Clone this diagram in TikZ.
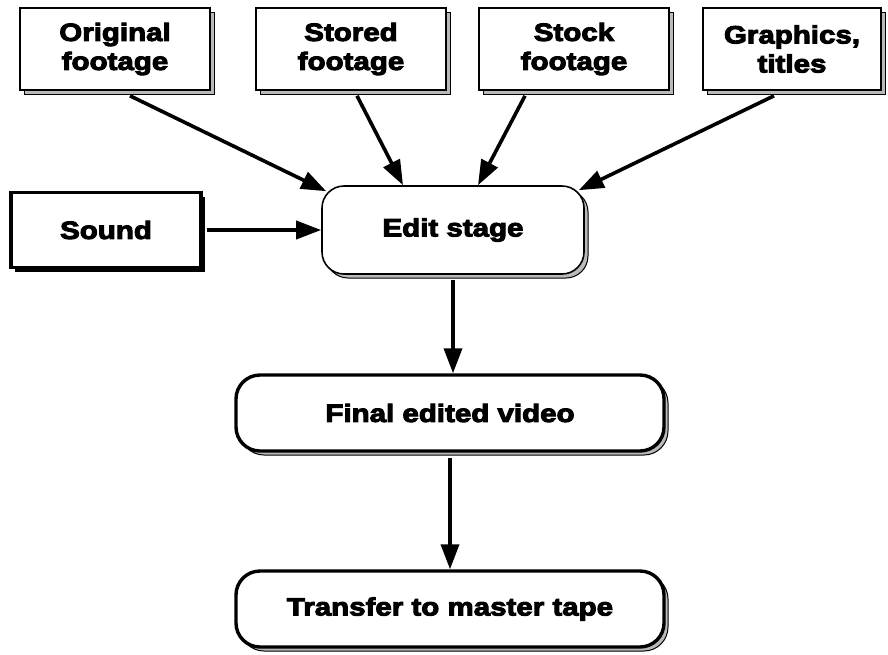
\documentclass[tikz,border=0pt]{standalone}
\usepackage{fontspec}
\newfontfamily\labelfont{Liberation Sans}[BoldFeatures={FakeBold=4,FakeStretch=1.18}]
\usepackage{tikz}
\usetikzlibrary{arrows.meta,calc,positioning,shadows}

\begin{document}
\begin{tikzpicture}[
    x=1pt,
    y=-1pt,
    srcbox/.style={
        draw=black,
        line width=1.6pt,
        fill=white,
        minimum width=190pt,
        minimum height=82pt,
        align=center,
        font=\labelfont\bfseries\fontsize{25}{29}\selectfont,
        drop shadow={shadow xshift=4pt,shadow yshift=-4pt,fill=gray!55,draw=black,line width=1pt,opacity=1}
    },
    soundbox/.style={
        draw=black,
        line width=3.4pt,
        fill=white,
        minimum width=190pt,
        minimum height=75pt,
        font=\labelfont\bfseries\fontsize{25}{29}\selectfont,
        drop shadow={shadow xshift=4pt,shadow yshift=-4pt,fill=black,opacity=1}
    },
    stagebox/.style={
        draw=black,
        line width=1.6pt,
        fill=white,
        rounded corners=22pt,
        minimum width=262pt,
        minimum height=88pt,
        font=\labelfont\bfseries\fontsize{25}{29}\selectfont,
        drop shadow={shadow xshift=4pt,shadow yshift=-4pt,fill=gray!55,draw=black,line width=1pt,opacity=1}
    },
    outbox/.style={
        draw=black,
        line width=3.4pt,
        fill=white,
        rounded corners=24pt,
        minimum width=428pt,
        minimum height=76pt,
        font=\labelfont\bfseries\fontsize{25}{29}\selectfont,
        drop shadow={shadow xshift=4pt,shadow yshift=-4pt,fill=gray!55,draw=black,line width=1pt,opacity=1}
    },
    flow/.style={
        draw=black,
        line width=3.6pt,
        -{Triangle[length=25pt,width=18pt]}
    }
]
\useasboundingbox (0,0) rectangle (888,654);

% sources
\node[srcbox] (orig) at (115,49) {Original\\footage};
\node[srcbox] (stored) at (351,49) {Stored\\footage};
\node[srcbox] (stock) at (574,49) {Stock\\footage};
\node[srcbox,minimum width=178pt] (graph) at (792,49) {Graphics,\\titles};
\node[soundbox] (sound) at (106,230) {Sound};

% stages
\node[stagebox] (edit) at (453,230) {Edit stage};
\node[outbox] (final) at (450,413) {Final edited video};
\node[outbox] (master) at (450,609) {Transfer to master tape};

\draw[flow] ([xshift=15pt,yshift=-5pt]orig.south) -- ([xshift=5pt,yshift=-6pt]edit.north west);
\draw[flow] ([xshift=6pt,yshift=-5pt]stored.south) -- ([xshift=-50pt]edit.north);
\draw[flow] ([xshift=-49pt,yshift=-5pt]stock.south) -- ([xshift=25pt]edit.north);
\draw[flow] ([xshift=-18pt,yshift=-5pt]graph.south) -- ([xshift=-6pt,yshift=-5pt]edit.north east);
\draw[flow] ([xshift=4pt]sound.east) -- (edit.west);
\draw[flow] ([yshift=-5pt]edit.south) -- (edit.south |- final.north);
\draw[flow] ([yshift=-5pt]final.south) -- (final.south |- master.north);

\end{tikzpicture}
\end{document}
